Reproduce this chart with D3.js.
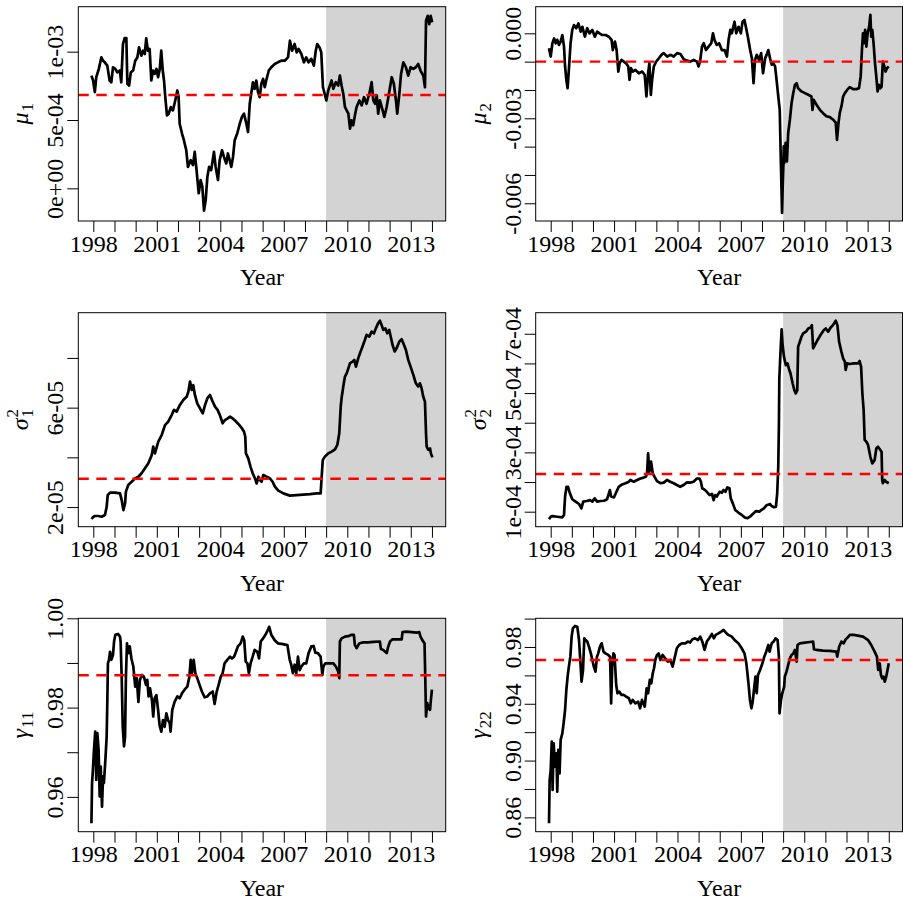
<!DOCTYPE html>
<html>
<head>
<meta charset="utf-8">
<script src="https://cdn.jsdelivr.net/npm/d3@7"></script>
<style>
  html, body { margin: 0; padding: 0; background: #fff; }
  svg { display: block; font-family: "Liberation Serif", "Times New Roman", serif; }
</style>
</head>
<body>
<svg id="chart" width="903" height="902"></svg>
<script>
// ---- shared x axis (fractional years) ----
const yearTicks = [1998, 1999, 2000, 2001, 2002, 2003, 2004, 2005, 2006, 2007, 2008, 2009, 2010, 2011, 2012, 2013, 2014];
const yearTickLabels = ["1998", "", "", "2001", "", "", "2004", "", "", "2007", "", "", "2010", "", "", "2013", ""];
const xDomain = [1997.29, 2014.65];
const shadeStart = 2009;

// ---- mu_1 path, values in units of 1e-4 ----
const mu1 = [[1997.91,8.25],[1997.99,7.89],[1998.07,7.04],[1998.14,8.13],[1998.26,8.74],[1998.38,9.58],[1998.46,9.34],[1998.54,9.22],[1998.66,8.98],[1998.77,7.89],[1998.85,7.76],[1998.93,8.86],[1999.04,8.74],[1999.13,8.49],[1999.25,8.62],[1999.32,7.76],[1999.40,10.56],[1999.48,11.0],[1999.56,11.0],[1999.61,7.65],[1999.69,7.52],[1999.77,8.49],[1999.88,8.62],[1999.98,9.34],[2000.08,9.58],[2000.16,10.31],[2000.27,9.71],[2000.35,10.07],[2000.43,9.83],[2000.50,10.97],[2000.58,10.07],[2000.66,10.2],[2000.74,7.89],[2000.82,8.62],[2000.90,8.38],[2000.98,8.74],[2001.06,8.13],[2001.14,8.74],[2001.21,10.07],[2001.28,8.62],[2001.34,7.89],[2001.40,6.67],[2001.48,5.34],[2001.56,5.46],[2001.66,5.94],[2001.76,5.70],[2001.87,6.43],[2001.97,7.16],[2002.03,6.67],[2002.08,4.73],[2002.19,4.01],[2002.28,3.52],[2002.39,2.79],[2002.47,1.57],[2002.60,2.06],[2002.71,1.70],[2002.79,2.67],[2002.87,1.46],[2002.98,-0.36],[2003.07,0.60],[2003.15,0.12],[2003.23,-1.63],[2003.31,-0.85],[2003.39,0.85],[2003.47,1.57],[2003.57,1.33],[2003.70,2.67],[2003.78,1.57],[2003.89,0.60],[2003.97,2.06],[2004.08,2.79],[2004.17,2.30],[2004.28,1.82],[2004.36,2.55],[2004.44,2.06],[2004.52,1.57],[2004.60,2.30],[2004.68,3.52],[2004.80,4.01],[2004.92,4.73],[2005.02,5.22],[2005.12,5.46],[2005.23,4.73],[2005.31,4.12],[2005.39,6.19],[2005.46,6.92],[2005.54,7.76],[2005.62,7.28],[2005.70,7.89],[2005.78,7.04],[2005.86,6.67],[2005.94,7.65],[2006.02,8.01],[2006.10,7.40],[2006.17,7.89],[2006.29,8.62],[2006.41,8.86],[2006.57,9.10],[2006.72,9.22],[2006.88,9.34],[2007.04,9.34],[2007.20,9.58],[2007.29,10.80],[2007.39,10.07],[2007.51,10.56],[2007.61,9.95],[2007.70,10.2],[2007.83,9.83],[2007.95,9.22],[2008.06,9.58],[2008.17,9.22],[2008.30,9.47],[2008.42,8.98],[2008.51,10.07],[2008.58,10.56],[2008.69,10.31],[2008.77,9.95],[2008.85,7.40],[2008.93,6.92],[2009.01,6.43],[2009.10,7.16],[2009.26,7.89],[2009.34,7.28],[2009.46,7.77],[2009.57,7.52],[2009.65,8.25],[2009.73,7.52],[2009.81,6.92],[2009.89,5.95],[2009.97,5.70],[2010.05,5.46],[2010.13,4.37],[2010.20,4.98],[2010.28,4.61],[2010.36,5.34],[2010.44,5.95],[2010.57,6.43],[2010.68,6.07],[2010.79,6.67],[2010.91,6.19],[2011.04,6.92],[2011.15,7.77],[2011.23,6.43],[2011.31,6.19],[2011.39,6.80],[2011.46,5.46],[2011.54,6.43],[2011.67,5.70],[2011.75,5.22],[2011.86,5.95],[2011.94,6.67],[2012.02,7.40],[2012.10,8.13],[2012.20,7.65],[2012.30,6.43],[2012.36,5.46],[2012.46,6.92],[2012.54,8.37],[2012.65,9.22],[2012.77,8.86],[2012.88,8.25],[2012.99,8.86],[2013.12,8.74],[2013.24,8.86],[2013.35,9.10],[2013.46,8.62],[2013.59,8.25],[2013.67,7.40],[2013.72,12.26],[2013.80,12.62],[2013.87,12.01],[2013.94,12.62],[2014.01,12.14]];
const mu1Ticks = [0, 5e-4, 1e-3];
const mu1TickLabels = ["0e+00", "5e-04", "1e-03"];
const mu1Mean = 6.83e-4;

// ---- mu_2 path, values in units of 1e-3 ----
const mu2 = [[1997.92,-0.53],[1998.00,-0.82],[1998.08,-0.35],[1998.16,-0.18],[1998.24,-0.35],[1998.31,-0.23],[1998.39,-0.41],[1998.47,-0.29],[1998.55,-0.06],[1998.63,-0.47],[1998.68,-1.17],[1998.74,-1.64],[1998.80,-1.94],[1998.87,-1.17],[1998.94,-0.35],[1999.02,0.12],[1999.10,0.29],[1999.21,0.18],[1999.31,0.35],[1999.42,0.06],[1999.50,0.23],[1999.62,-0.12],[1999.73,0.18],[1999.84,0.0],[1999.97,0.12],[2000.09,-0.12],[2000.20,0.06],[2000.31,0.0],[2000.44,-0.06],[2000.60,-0.06],[2000.75,-0.12],[2000.88,-0.23],[2000.94,-0.59],[2001.04,-0.29],[2001.12,-0.59],[2001.20,-1.35],[2001.26,-1.06],[2001.35,-0.94],[2001.46,-1.0],[2001.57,-1.06],[2001.67,-1.17],[2001.73,-1.64],[2001.80,-1.23],[2001.89,-1.35],[2002.01,-1.29],[2002.17,-1.41],[2002.33,-1.35],[2002.45,-1.47],[2002.53,-2.23],[2002.61,-1.41],[2002.67,-1.06],[2002.74,-2.17],[2002.80,-1.64],[2002.88,-1.17],[2002.99,-1.0],[2003.12,-0.88],[2003.24,-0.76],[2003.35,-0.70],[2003.51,-0.82],[2003.67,-0.76],[2003.82,-0.82],[2003.98,-0.70],[2004.14,-0.73],[2004.30,-0.92],[2004.45,-0.96],[2004.61,-1.0],[2004.77,-0.94],[2004.92,-1.0],[2005.00,-1.17],[2005.08,-0.94],[2005.16,-0.47],[2005.24,-0.35],[2005.35,-0.59],[2005.47,-0.47],[2005.60,-0.35],[2005.68,0.0],[2005.75,-0.23],[2005.86,-0.41],[2005.97,-0.35],[2006.10,-0.59],[2006.23,-0.59],[2006.34,-0.82],[2006.42,-0.23],[2006.50,0.12],[2006.57,0.0],[2006.70,0.41],[2006.78,0.0],[2006.89,0.23],[2007.00,0.0],[2007.08,0.41],[2007.17,0.47],[2007.25,0.18],[2007.33,-0.12],[2007.44,-0.59],[2007.52,-0.88],[2007.60,-1.76],[2007.67,-0.94],[2007.75,-0.76],[2007.86,-0.94],[2007.96,-0.70],[2008.05,-1.41],[2008.15,-0.88],[2008.22,-0.76],[2008.30,-0.59],[2008.38,-0.88],[2008.46,-1.11],[2008.54,-1.06],[2008.62,-1.17],[2008.69,-1.64],[2008.77,-2.23],[2008.84,-2.70],[2008.88,-4.11],[2008.92,-5.40],[2008.95,-6.34],[2008.98,-5.40],[2009.01,-4.69],[2009.03,-3.99],[2009.05,-4.58],[2009.12,-3.87],[2009.18,-4.52],[2009.24,-3.52],[2009.32,-3.05],[2009.40,-2.46],[2009.48,-2.11],[2009.56,-1.82],[2009.64,-1.76],[2009.71,-1.94],[2009.87,-2.05],[2010.03,-2.11],[2010.19,-2.17],[2010.34,-2.23],[2010.39,-2.70],[2010.45,-2.35],[2010.58,-2.52],[2010.74,-2.70],[2010.89,-2.82],[2011.05,-2.93],[2011.21,-2.96],[2011.37,-3.05],[2011.49,-3.15],[2011.55,-3.76],[2011.62,-3.17],[2011.68,-2.82],[2011.76,-2.58],[2011.84,-2.23],[2011.92,-2.11],[2012.03,-2.0],[2012.15,-1.90],[2012.31,-1.97],[2012.47,-1.97],[2012.59,-1.94],[2012.67,-1.53],[2012.73,-0.59],[2012.78,0.0],[2012.83,-0.35],[2012.88,0.12],[2012.94,-0.47],[2013.00,0.0],[2013.07,0.23],[2013.13,0.65],[2013.17,-0.12],[2013.22,0.12],[2013.28,-0.35],[2013.35,-1.06],[2013.41,-1.53],[2013.47,-2.05],[2013.53,-1.82],[2013.60,-1.94],[2013.66,-1.88],[2013.72,-1.0],[2013.79,-1.17],[2013.85,-1.35],[2013.91,-1.23],[2014.00,-1.17]];
const mu2Ticks = [0, -0.001, -0.002, -0.003, -0.004, -0.005, -0.006];
const mu2TickLabels = ["0.000", "", "", "-0.003", "", "", "-0.006"];
const mu2Mean = -0.001;

// ---- sigma_1^2 path, values in units of 1e-5 ----
const sig1 = [[1997.92,1.52],[1998.00,1.61],[1998.08,1.64],[1998.24,1.64],[1998.39,1.61],[1998.55,1.68],[1998.63,2.01],[1998.68,2.48],[1998.79,2.58],[1999.02,2.58],[1999.26,2.55],[1999.34,2.28],[1999.42,1.88],[1999.50,2.15],[1999.54,2.62],[1999.65,2.89],[1999.81,3.02],[1999.97,3.15],[2000.13,3.22],[2000.28,3.36],[2000.44,3.56],[2000.60,3.76],[2000.76,4.09],[2000.83,4.43],[2000.91,4.16],[2001.07,4.63],[2001.23,4.90],[2001.39,5.30],[2001.54,5.44],[2001.70,5.70],[2001.81,5.91],[2001.94,5.84],[2002.09,6.11],[2002.25,6.31],[2002.41,6.44],[2002.49,6.64],[2002.57,7.05],[2002.65,6.71],[2002.72,6.91],[2002.80,6.51],[2002.91,6.17],[2003.04,5.97],[2003.17,5.77],[2003.28,6.11],[2003.39,6.38],[2003.51,6.51],[2003.64,6.24],[2003.75,6.04],[2003.87,5.91],[2003.98,5.70],[2004.11,5.37],[2004.22,5.50],[2004.35,5.57],[2004.46,5.64],[2004.58,5.57],[2004.74,5.44],[2004.90,5.30],[2005.02,5.17],[2005.12,5.03],[2005.18,4.83],[2005.21,4.16],[2005.32,3.96],[2005.43,3.62],[2005.53,3.36],[2005.64,3.15],[2005.72,2.95],[2005.80,3.22],[2005.87,3.09],[2005.95,3.02],[2006.03,3.29],[2006.19,3.22],[2006.35,3.15],[2006.47,3.02],[2006.58,2.82],[2006.74,2.66],[2006.98,2.55],[2007.29,2.46],[2007.61,2.48],[2007.92,2.50],[2008.24,2.52],[2008.55,2.55],[2008.74,2.55],[2008.79,3.22],[2008.84,3.89],[2008.94,4.03],[2009.10,4.16],[2009.26,4.23],[2009.42,4.32],[2009.53,4.50],[2009.62,4.97],[2009.69,6.04],[2009.73,6.38],[2009.81,6.85],[2009.89,7.25],[2009.97,7.38],[2010.05,7.58],[2010.13,7.79],[2010.25,7.85],[2010.33,7.92],[2010.41,7.65],[2010.52,7.99],[2010.60,8.19],[2010.72,8.46],[2010.83,8.72],[2010.91,8.93],[2011.04,8.86],[2011.15,9.06],[2011.26,8.99],[2011.35,9.19],[2011.46,9.40],[2011.54,9.50],[2011.62,9.33],[2011.70,9.13],[2011.80,9.19],[2011.89,8.99],[2011.98,9.13],[2012.05,8.86],[2012.14,8.52],[2012.24,8.26],[2012.33,8.39],[2012.46,8.66],[2012.57,8.75],[2012.68,8.52],[2012.77,8.32],[2012.88,7.92],[2012.99,7.65],[2013.12,7.32],[2013.24,6.98],[2013.35,6.85],[2013.43,6.98],[2013.51,6.78],[2013.59,6.44],[2013.67,6.24],[2013.72,4.97],[2013.75,4.43],[2013.83,4.30],[2013.91,4.36],[2013.95,4.16],[2014.02,4.0]];
const sig1Ticks = [2e-5, 4e-5, 6e-5, 8e-5];
const sig1TickLabels = ["2e-05", "", "6e-05", ""];
const sig1Mean = 3.14e-5;

// ---- sigma_2^2 path, values in units of 1e-4 ----
const sig2 = [[1997.92,0.75],[1998.00,0.83],[1998.08,0.85],[1998.31,0.83],[1998.55,0.81],[1998.63,0.89],[1998.68,1.51],[1998.75,1.84],[1998.82,1.84],[1998.91,1.62],[1999.02,1.42],[1999.18,1.34],[1999.34,1.26],[1999.45,1.11],[1999.54,1.34],[1999.70,1.36],[1999.86,1.39],[1999.97,1.34],[2000.08,1.45],[2000.20,1.34],[2000.36,1.36],[2000.52,1.37],[2000.67,1.42],[2000.80,1.73],[2000.86,1.51],[2000.99,1.48],[2001.11,1.67],[2001.22,1.84],[2001.38,1.92],[2001.54,1.96],[2001.70,2.01],[2001.77,2.07],[2001.93,2.01],[2002.09,2.07],[2002.25,2.12],[2002.40,2.15],[2002.51,2.18],[2002.56,2.29],[2002.61,2.97],[2002.67,2.35],[2002.75,2.69],[2002.83,2.29],[2002.91,2.18],[2003.03,2.03],[2003.19,1.96],[2003.35,1.98],[2003.50,2.07],[2003.66,2.01],[2003.82,1.96],[2003.97,1.90],[2004.13,1.84],[2004.29,1.90],[2004.45,1.99],[2004.60,1.98],[2004.76,2.01],[2004.92,2.12],[2005.04,2.12],[2005.11,2.01],[2005.17,1.79],[2005.31,1.73],[2005.42,1.64],[2005.52,1.56],[2005.63,1.60],[2005.71,1.39],[2005.78,1.56],[2005.86,1.51],[2005.99,1.67],[2006.10,1.64],[2006.18,1.73],[2006.27,1.67],[2006.36,1.82],[2006.46,1.79],[2006.52,1.45],[2006.62,1.28],[2006.73,1.06],[2006.88,0.97],[2007.04,0.89],[2007.20,0.80],[2007.32,0.78],[2007.43,0.83],[2007.59,0.94],[2007.72,1.02],[2007.87,1.0],[2007.98,1.06],[2008.09,1.11],[2008.22,1.22],[2008.38,1.26],[2008.46,1.19],[2008.57,1.15],[2008.66,1.17],[2008.72,1.62],[2008.77,2.52],[2008.80,3.87],[2008.82,5.49],[2008.88,6.45],[2008.93,7.15],[2008.97,6.67],[2009.04,6.22],[2009.13,5.94],[2009.21,6.0],[2009.27,5.83],[2009.35,5.66],[2009.45,5.33],[2009.53,5.10],[2009.60,4.99],[2009.67,5.10],[2009.71,6.56],[2009.79,6.73],[2009.87,6.90],[2009.95,7.01],[2010.08,7.07],[2010.19,7.18],[2010.30,7.21],[2010.36,7.29],[2010.42,6.51],[2010.50,6.62],[2010.63,6.79],[2010.77,6.96],[2010.92,7.12],[2011.02,7.18],[2011.13,7.07],[2011.25,7.21],[2011.36,7.29],[2011.49,7.44],[2011.57,7.29],[2011.65,6.73],[2011.76,6.39],[2011.84,6.17],[2011.92,6.06],[2011.96,5.78],[2012.03,6.0],[2012.15,5.98],[2012.34,6.0],[2012.54,6.0],[2012.62,6.08],[2012.69,5.89],[2012.75,4.99],[2012.81,4.43],[2012.86,3.42],[2012.94,3.36],[2013.02,3.25],[2013.13,2.85],[2013.22,2.63],[2013.33,2.74],[2013.41,3.13],[2013.49,3.19],[2013.60,3.08],[2013.66,3.02],[2013.69,2.07],[2013.72,1.96],[2013.80,2.07],[2013.88,2.01],[2014.00,1.96]];
const sig2Ticks = [1e-4, 2e-4, 3e-4, 4e-4, 5e-4, 6e-4, 7e-4];
const sig2TickLabels = ["1e-04", "", "3e-04", "", "5e-04", "", "7e-04"];
const sig2Mean = 2.27e-4;

// ---- gamma_11 path ----
const gam11 = [[1997.91,0.9541],[1997.94,0.9631],[1997.98,0.9660],[1998.03,0.9705],[1998.09,0.9746],[1998.14,0.9638],[1998.19,0.9743],[1998.25,0.9705],[1998.30,0.9601],[1998.35,0.9668],[1998.41,0.9578],[1998.46,0.9646],[1998.50,0.9631],[1998.57,0.9683],[1998.63,0.9735],[1998.66,0.9810],[1998.69,0.9899],[1998.74,0.9907],[1998.79,0.9925],[1998.85,0.9907],[1998.93,0.9918],[1998.98,0.9948],[1999.04,0.9963],[1999.17,0.9965],[1999.26,0.9959],[1999.29,0.9948],[1999.34,0.9869],[1999.39,0.9757],[1999.45,0.9713],[1999.50,0.9735],[1999.54,0.9869],[1999.59,0.9944],[1999.65,0.9922],[1999.72,0.9937],[1999.80,0.9910],[1999.89,0.9892],[1999.98,0.9847],[2000.05,0.9866],[2000.13,0.9813],[2000.20,0.9862],[2000.30,0.9873],[2000.39,0.9869],[2000.49,0.9851],[2000.55,0.9862],[2000.61,0.9825],[2000.68,0.9843],[2000.77,0.9817],[2000.83,0.9780],[2000.90,0.9821],[2000.98,0.9828],[2001.06,0.9795],[2001.13,0.9761],[2001.21,0.9746],[2001.29,0.9772],[2001.37,0.9757],[2001.45,0.9787],[2001.53,0.9772],[2001.61,0.9765],[2001.65,0.9746],[2001.73,0.9795],[2001.84,0.9813],[2001.97,0.9825],[2002.08,0.9821],[2002.19,0.9832],[2002.31,0.9840],[2002.44,0.9847],[2002.54,0.9869],[2002.60,0.9907],[2002.66,0.9877],[2002.74,0.9907],[2002.82,0.9877],[2002.91,0.9866],[2003.02,0.9851],[2003.13,0.9836],[2003.26,0.9823],[2003.39,0.9825],[2003.51,0.9832],[2003.64,0.9836],[2003.73,0.9808],[2003.83,0.9836],[2003.92,0.9851],[2004.02,0.9869],[2004.11,0.9877],[2004.20,0.9899],[2004.33,0.9907],[2004.46,0.9914],[2004.55,0.9910],[2004.65,0.9914],[2004.74,0.9925],[2004.83,0.9937],[2004.96,0.9944],[2005.06,0.9959],[2005.13,0.9951],[2005.20,0.9903],[2005.28,0.9899],[2005.35,0.9877],[2005.43,0.9899],[2005.53,0.9914],[2005.62,0.9929],[2005.75,0.9925],[2005.83,0.9910],[2005.91,0.9948],[2006.02,0.9955],[2006.13,0.9963],[2006.25,0.9974],[2006.31,0.9981],[2006.41,0.9963],[2006.57,0.9951],[2006.72,0.9944],[2006.96,0.9942],[2007.17,0.9940],[2007.28,0.9907],[2007.35,0.9896],[2007.43,0.9877],[2007.51,0.9896],[2007.59,0.9877],[2007.67,0.9914],[2007.75,0.9884],[2007.83,0.9892],[2007.95,0.9899],[2008.06,0.9899],[2008.17,0.9922],[2008.30,0.9937],[2008.41,0.9938],[2008.49,0.9923],[2008.61,0.9922],[2008.74,0.9914],[2008.82,0.9873],[2008.87,0.9892],[2008.96,0.9899],[2009.09,0.9899],[2009.18,0.9899],[2009.34,0.9899],[2009.46,0.9892],[2009.57,0.9881],[2009.62,0.9866],[2009.65,0.9948],[2009.73,0.9955],[2009.89,0.9959],[2010.05,0.9960],[2010.20,0.9963],[2010.31,0.9963],[2010.36,0.9940],[2010.44,0.9933],[2010.57,0.9944],[2010.76,0.9946],[2010.99,0.9946],[2011.23,0.9947],[2011.54,0.9948],[2011.59,0.9931],[2011.70,0.9929],[2011.86,0.9922],[2011.94,0.9937],[2012.02,0.9948],[2012.14,0.9953],[2012.33,0.9953],[2012.57,0.9953],[2012.61,0.9969],[2012.80,0.9970],[2013.04,0.9969],[2013.28,0.9968],[2013.40,0.9969],[2013.46,0.9959],[2013.56,0.9950],[2013.65,0.9944],[2013.69,0.9854],[2013.72,0.9780],[2013.78,0.9810],[2013.84,0.9799],[2013.91,0.9795],[2013.95,0.9817],[2014.00,0.9840]];
const gam11Ticks = [0.96, 0.97, 0.98, 0.99, 1.00];
const gam11TickLabels = ["0.96", "", "0.98", "", "1.00"];
const gam11Mean = 0.98725;

// ---- gamma_22 path ----
const gam22 = [[1997.92,0.8558],[1997.95,0.8863],[1998.00,0.8934],[1998.05,0.9133],[1998.09,0.8793],[1998.14,0.9122],[1998.20,0.8957],[1998.27,0.9051],[1998.31,0.8781],[1998.36,0.9075],[1998.42,0.8910],[1998.47,0.9145],[1998.55,0.9192],[1998.61,0.9262],[1998.68,0.9356],[1998.74,0.9497],[1998.80,0.9591],[1998.86,0.9662],[1998.93,0.9732],[1998.99,0.9873],[1999.05,0.9931],[1999.15,0.9948],[1999.26,0.9943],[1999.34,0.9849],[1999.40,0.9708],[1999.46,0.9556],[1999.53,0.9638],[1999.59,0.9861],[1999.65,0.9849],[1999.73,0.9838],[1999.81,0.9802],[1999.90,0.9755],[1999.97,0.9708],[2000.04,0.9662],[2000.12,0.9626],[2000.19,0.9732],[2000.25,0.9755],[2000.33,0.9802],[2000.41,0.9826],[2000.50,0.9767],[2000.59,0.9755],[2000.72,0.9744],[2000.81,0.9732],[2000.86,0.9403],[2000.91,0.9662],[2000.97,0.9755],[2001.02,0.9744],[2001.10,0.9532],[2001.16,0.9474],[2001.25,0.9485],[2001.35,0.9462],[2001.46,0.9462],[2001.57,0.9450],[2001.70,0.9439],[2001.79,0.9403],[2001.88,0.9427],[2002.01,0.9403],[2002.14,0.9415],[2002.23,0.9368],[2002.32,0.9427],[2002.45,0.9380],[2002.54,0.9509],[2002.61,0.9474],[2002.69,0.9568],[2002.76,0.9544],[2002.83,0.9615],[2002.89,0.9650],[2002.95,0.9708],[2003.03,0.9744],[2003.11,0.9755],[2003.19,0.9708],[2003.30,0.9744],[2003.42,0.9720],[2003.55,0.9697],[2003.66,0.9708],[2003.77,0.9662],[2003.86,0.9720],[2003.97,0.9791],[2004.08,0.9814],[2004.21,0.9826],[2004.37,0.9826],[2004.49,0.9838],[2004.60,0.9831],[2004.71,0.9854],[2004.84,0.9861],[2004.97,0.9849],[2005.08,0.9873],[2005.19,0.9831],[2005.28,0.9779],[2005.39,0.9838],[2005.50,0.9861],[2005.63,0.9892],[2005.72,0.9861],[2005.81,0.9885],[2005.94,0.9896],[2006.07,0.9908],[2006.18,0.9920],[2006.29,0.9901],[2006.41,0.9885],[2006.57,0.9873],[2006.73,0.9845],[2006.88,0.9826],[2007.04,0.9791],[2007.17,0.9755],[2007.26,0.9685],[2007.36,0.9544],[2007.43,0.9427],[2007.50,0.9368],[2007.56,0.9415],[2007.62,0.9497],[2007.69,0.9591],[2007.75,0.9474],[2007.81,0.9603],[2007.91,0.9638],[2008.02,0.9685],[2008.11,0.9732],[2008.20,0.9767],[2008.30,0.9814],[2008.36,0.9767],[2008.46,0.9826],[2008.55,0.9838],[2008.64,0.9861],[2008.74,0.9849],[2008.80,0.9732],[2008.83,0.9333],[2008.90,0.9427],[2008.96,0.9474],[2009.05,0.9521],[2009.08,0.9591],[2009.16,0.9626],[2009.24,0.9673],[2009.32,0.9720],[2009.40,0.9744],[2009.48,0.9755],[2009.56,0.9779],[2009.64,0.9697],[2009.68,0.9814],[2009.79,0.9826],[2010.03,0.9831],[2010.26,0.9835],[2010.42,0.9838],[2010.46,0.9784],[2010.58,0.9779],[2010.89,0.9774],[2011.21,0.9772],[2011.52,0.9767],[2011.56,0.9732],[2011.65,0.9802],[2011.76,0.9838],[2011.87,0.9826],[2011.96,0.9854],[2012.07,0.9868],[2012.15,0.9885],[2012.34,0.9885],[2012.54,0.9880],[2012.78,0.9873],[2013.02,0.9849],[2013.17,0.9814],[2013.33,0.9767],[2013.44,0.9732],[2013.50,0.9638],[2013.57,0.9685],[2013.63,0.9603],[2013.69,0.9579],[2013.75,0.9591],[2013.81,0.9556],[2013.88,0.9591],[2013.94,0.9638],[2014.00,0.9685]];
const gam22Ticks = [0.86, 0.88, 0.90, 0.92, 0.94, 0.96, 0.98, 1.00];
const gam22TickLabels = ["0.86", "", "0.90", "", "0.94", "", "0.98", ""];
const gam22Mean = 0.9708;

// ---- panel layout (2 x 3 grid) ----
const panels = [
  { series: mu1,   unit: 1e-4, ticks: mu1Ticks,   labels: mu1TickLabels,   mean: mu1Mean,   yDomain: [-2.39e-4, 1.329e-3], title: { main: "μ", sub: "1" },             box: { x: 78.3,  y: 6.7,   w: 367.4, h: 214.3 } },
  { series: mu2,   unit: 1e-3, ticks: mu2Ticks,   labels: mu2TickLabels,   mean: mu2Mean,   yDomain: [-0.006626, 0.00094], title: { main: "μ", sub: "2" },             box: { x: 535.7, y: 6.7,   w: 366.8, h: 214.3 } },
  { series: sig1,  unit: 1e-5, ticks: sig1Ticks,  labels: sig1TickLabels,  mean: sig1Mean,  yDomain: [1.21e-5, 9.82e-5],   title: { main: "σ", sub: "1", sup: "2" },   box: { x: 78.3,  y: 312.7, w: 367.4, h: 214.0 } },
  { series: sig2,  unit: 1e-4, ticks: sig2Ticks,  labels: sig2TickLabels,  mean: sig2Mean,  yDomain: [0.494e-4, 7.71e-4],  title: { main: "σ", sub: "2", sup: "2" },   box: { x: 535.7, y: 312.7, w: 366.8, h: 214.0 } },
  { series: gam11, unit: 1,    ticks: gam11Ticks, labels: gam11TickLabels, mean: gam11Mean, yDomain: [0.9522, 1.0000],     title: { main: "γ", sub: "11" },            box: { x: 78.3,  y: 618.3, w: 367.4, h: 213.4 } },
  { series: gam22, unit: 1,    ticks: gam22Ticks, labels: gam22TickLabels, mean: gam22Mean, yDomain: [0.8499, 1.0002],     title: { main: "γ", sub: "22" },            box: { x: 535.7, y: 618.3, w: 366.8, h: 213.4 } }
];

const FONT = 24;
const SUBFONT = 17;
const svg = d3.select("#chart");

panels.forEach((p, i) => {
  const b = p.box;
  const x = d3.scaleLinear().domain(xDomain).range([b.x, b.x + b.w]);
  const y = d3.scaleLinear().domain(p.yDomain).range([b.y + b.h, b.y]);
  const g = svg.append("g").attr("class", "panel");

  const clipId = "clip-" + i;
  g.append("clipPath").attr("id", clipId)
    .append("rect").attr("x", b.x).attr("y", b.y).attr("width", b.w).attr("height", b.h);

  // out-of-sample period shading
  g.append("rect")
    .attr("x", x(shadeStart)).attr("y", b.y)
    .attr("width", b.x + b.w - x(shadeStart)).attr("height", b.h)
    .attr("fill", "#d3d3d3");

  const plot = g.append("g").attr("clip-path", `url(#${clipId})`);

  // parameter path
  const line = d3.line().x(d => x(d[0])).y(d => y(d[1] * p.unit));
  plot.append("path").datum(p.series)
    .attr("d", line)
    .attr("fill", "none").attr("stroke", "#000")
    .attr("stroke-width", 2.7).attr("stroke-linejoin", "round");

  // full-sample estimate
  plot.append("line")
    .attr("x1", b.x).attr("x2", b.x + b.w)
    .attr("y1", y(p.mean)).attr("y2", y(p.mean))
    .attr("stroke", "#ff0000").attr("stroke-width", 2.4)
    .attr("stroke-dasharray", "10.5,7.5");

  // frame
  g.append("rect").attr("x", b.x).attr("y", b.y).attr("width", b.w).attr("height", b.h)
    .attr("fill", "none").attr("stroke", "#000").attr("stroke-width", 1);

  // x axis
  const xAxis = g.append("g").attr("transform", `translate(0,${b.y + b.h})`)
    .call(d3.axisBottom(x).tickValues(yearTicks)
      .tickFormat(d => yearTickLabels[yearTicks.indexOf(d)])
      .tickSize(11).tickSizeOuter(0));
  xAxis.select(".domain").remove();
  xAxis.selectAll("line").attr("stroke", "#000");
  xAxis.selectAll("text")
    .attr("y", 30.5).attr("dy", null)
    .attr("fill", "#000").attr("font-size", FONT)
    .attr("font-family", "Liberation Serif, serif");

  // y axis with rotated labels
  const yAxis = g.append("g").attr("transform", `translate(${b.x},0)`)
    .call(d3.axisLeft(y).tickValues(p.ticks)
      .tickFormat(d => p.labels[p.ticks.indexOf(d)])
      .tickSize(11).tickSizeOuter(0));
  yAxis.select(".domain").remove();
  yAxis.selectAll("line").attr("stroke", "#000");
  yAxis.selectAll("text")
    .attr("x", 0).attr("y", -15).attr("dy", null)
    .attr("transform", "rotate(-90)")
    .attr("text-anchor", "middle")
    .attr("fill", "#000").attr("font-size", FONT)
    .attr("font-family", "Liberation Serif, serif");

  // x title
  g.append("text")
    .attr("x", b.x + b.w / 2).attr("y", b.y + b.h + 64)
    .attr("text-anchor", "middle").attr("font-size", FONT).attr("fill", "#000")
    .text("Year");

  // y title: italic greek symbol with sub/superscripts
  const tg = g.append("g")
    .attr("transform", `translate(${b.x - 50},${b.y + b.h / 2}) rotate(-90)`);
  const mainT = tg.append("text").attr("font-size", FONT).attr("font-style", "italic")
    .attr("fill", "#000").text(p.title.main);
  const mw = mainT.node().getComputedTextLength();
  const subT = tg.append("text").attr("font-size", SUBFONT).attr("fill", "#000")
    .attr("y", 5).text(p.title.sub);
  let sw = subT.node().getComputedTextLength();
  let supT = null;
  if (p.title.sup) {
    supT = tg.append("text").attr("font-size", SUBFONT).attr("fill", "#000")
      .attr("y", -10).text(p.title.sup);
    sw = Math.max(sw, supT.node().getComputedTextLength());
  }
  const total = mw + 1 + sw;
  mainT.attr("x", -total / 2);
  subT.attr("x", -total / 2 + mw + 1);
  if (supT) supT.attr("x", -total / 2 + mw + 1);
});
</script>
</body>
</html>
